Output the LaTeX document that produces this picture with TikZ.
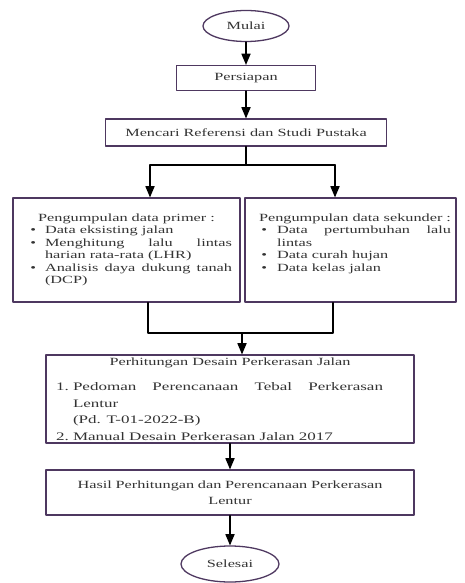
\documentclass[tikz,border=0pt]{standalone}
\usepackage{fontspec}
\setmainfont{Liberation Serif}[FakeStretch=1.48]
\usepackage{enumitem}
\setlist[itemize]{label=\textbullet, leftmargin=24pt, labelsep=9pt, itemsep=0pt, topsep=0pt, parsep=0pt, partopsep=0pt}
\setlist[enumerate]{label=\arabic*., leftmargin=15pt, labelsep=4pt, itemsep=0pt, topsep=0pt, parsep=0pt, partopsep=0pt}
\usetikzlibrary{arrows}
\usetikzlibrary{shapes.geometric}
\definecolor{garis}{RGB}{78,56,96}
\hyphenpenalty=10000
\emergencystretch=20pt

\begin{document}
\begin{tikzpicture}[line cap=round,line join=round,>=triangle 45,x=1pt,y=-1pt, text=black!80,
    font=\fontsize{11}{12.5}\selectfont,
    terminal/.style={ellipse, draw=garis, line width=1.3pt, inner sep=0pt},
    proses/.style={rectangle, draw=garis, line width=1.3pt, inner sep=0pt, align=center},
    datakotak/.style={rectangle, draw=garis, line width=1.3pt, inner xsep=0pt, inner ysep=0pt, align=justify, minimum height=104pt},
    panah/.style={->, line width=1.6pt}]
    \useasboundingbox (0,0) rectangle (464,583);

    \node [terminal, minimum width=86pt, minimum height=31pt] (mulai) at (246,26) {Mulai};
    \node [proses, minimum width=139pt, minimum height=25pt] (persiapan) at (246,78) {Persiapan};
    \node [proses, minimum width=281pt, minimum height=27pt] (referensi) at (246,132.5) {Mencari Referensi dan Studi Pustaka};

    \node [datakotak, minimum width=227pt, text width=211pt] (primer) at (126.5,250) {%
        {\centering Pengumpulan data primer :\par}
        \begin{itemize}
            \item Data eksisting jalan
            \item Menghitung lalu lintas harian rata-rata (LHR)
            \item Analisis daya dukung tanah (DCP)
        \end{itemize}};
    \node [datakotak, minimum width=211pt, text width=201pt] (sekunder) at (350.5,250) {%
        \hspace*{9pt}Pengumpulan data sekunder :
        \begin{itemize}[leftmargin=27pt, labelsep=10pt]
            \item Data pertumbuhan lalu lintas
            \item Data curah hujan
            \item Data kelas jalan
        \end{itemize}\vspace{12.5pt}};

    \node [datakotak, minimum width=368pt, minimum height=88pt, text width=344pt] (hitung) at (230,399) {%
        {\centering Perhitungan Desain Perkerasan Jalan\par}
        \vspace{9pt}\fontsize{11.5}{16.5}\selectfont
        \begin{enumerate}[rightmargin=19pt]
            \item Pedoman Perencanaan Tebal Perkerasan Lentur\linebreak (Pd. T-01-2022-B)
            \item Manual Desain Perkerasan Jalan 2017
        \end{enumerate}};
    \node [proses, minimum width=368pt, minimum height=45pt, text width=330pt, font=\fontsize{11}{16}\selectfont] (hasil) at (230,492.5) {Hasil Perhitungan dan Perencanaan Perkerasan\\ Lentur};
    \node [terminal, minimum width=98pt, minimum height=36pt] (selesai) at (230,564) {Selesai};

    % cabang ke dua kotak data
    \coordinate (cabang) at (246,165);
    \coordinate (kiri) at (150,165);
    \coordinate (kanan) at (335,165);
    \coordinate (gabungkiri) at (148,333);
    \coordinate (gabungkanan) at (333,333);
    \coordinate (gabung) at (242,333);

    \draw [panah] (mulai) -- (persiapan);
    \draw [panah] (persiapan) -- (referensi);
    \draw [line width=1.6pt] (referensi) -- (cabang);
    \draw [line width=1.6pt] (kiri) -- (kanan);
    \draw [panah] (kiri) -- (kiri |- primer.north);
    \draw [panah] (kanan) -- (kanan |- sekunder.north);

    \draw [line width=1.6pt] (gabungkiri |- primer.south) -- (gabungkiri) -- (gabungkanan) -- (gabungkanan |- sekunder.south);
    \draw [panah] (gabung) -- (gabung |- hitung.north);
    \draw [panah] (hitung) -- (hasil);
    \draw [panah] (hasil) -- (selesai);
\end{tikzpicture}
\end{document}
